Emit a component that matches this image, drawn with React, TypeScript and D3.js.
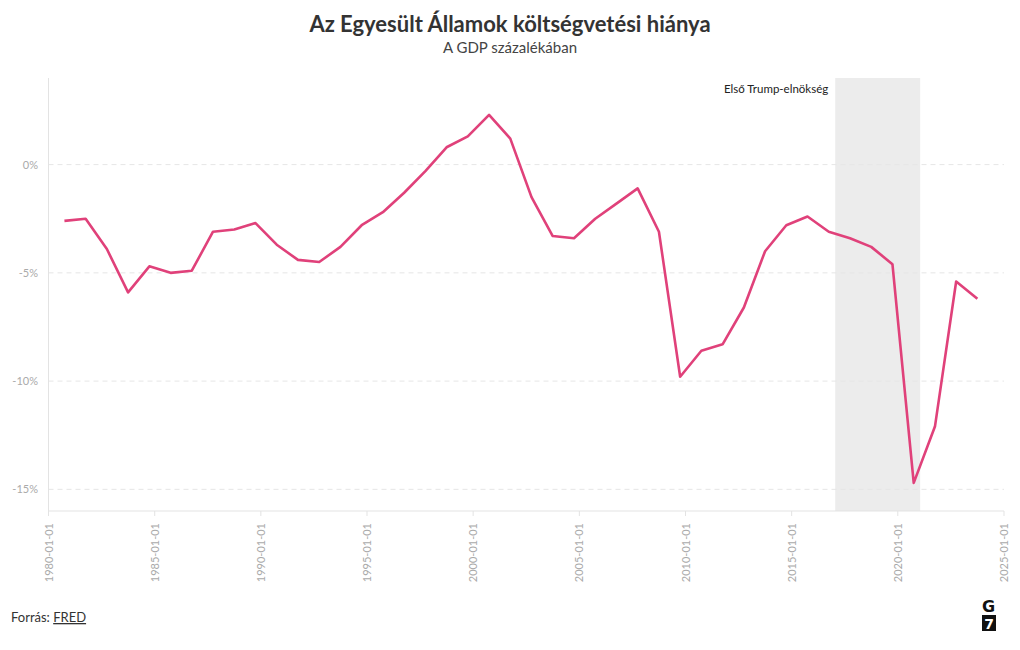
import React from "react";
import * as d3 from "d3";

const years: number[] = [
  1980, 1981, 1982, 1983, 1984, 1985, 1986, 1987, 1988, 1989,
  1990, 1991, 1992, 1993, 1994, 1995, 1996, 1997, 1998, 1999,
  2000, 2001, 2002, 2003, 2004, 2005, 2006, 2007, 2008, 2009,
  2010, 2011, 2012, 2013, 2014, 2015, 2016, 2017, 2018, 2019,
  2020, 2021, 2022, 2023,
];
const deficit: number[] = [
  -2.6, -2.5, -3.9, -5.9, -4.7, -5.0, -4.9, -3.1, -3.0, -2.7,
  -3.7, -4.4, -4.5, -3.8, -2.8, -2.2, -1.3, -0.3, 0.8, 1.3,
  2.3, 1.2, -1.5, -3.3, -3.4, -2.5, -1.8, -1.1, -3.1, -9.8,
  -8.6, -8.3, -6.6, -4.0, -2.8, -2.4, -3.1, -3.4, -3.8, -4.6,
  -14.7, -12.1, -5.4, -6.2,
];
const yTicks: number[] = [0, -5, -10, -15];
const xTickYears: number[] = [1980, 1985, 1990, 1995, 2000, 2005, 2010, 2015, 2020, 2025];
const bandStart = new Date(2017, 0, 20);
const bandEnd = new Date(2021, 0, 20);
const bandLabel = "Első Trump-elnökség";
const title = "Az Egyesült Államok költségvetési hiánya";
const subtitle = "A GDP százalékában";

const W = 1020;
const H = 650;
const left = 48.5;
const right = 1004;
const top = 78;
const bottom = 511;
const font = "Lato, 'Open Sans', sans-serif";

export default function App() {
  const x = d3
    .scaleTime()
    .domain([new Date(1980, 0, 1), new Date(2025, 0, 1)])
    .range([left, right]);
  const y = d3.scaleLinear().domain([-16, 4]).range([bottom, top]);
  const data = years.map((yr, i) => ({ date: new Date(yr, 9, 1), v: deficit[i] }));
  const line = d3
    .line<{ date: Date; v: number }>()
    .x((d) => x(d.date))
    .y((d) => y(d.v));
  const fmt = d3.timeFormat("%Y-%m-%d");

  return (
    <svg
      width={W}
      height={H}
      style={{ position: "absolute", left: 0, top: 0, background: "#fff" }}
      fontFamily={font}
    >
      <text x={W / 2} y={32} textAnchor="middle" fontSize={22} fontWeight={700} fill="#333">
        {title}
      </text>
      <text x={W / 2} y={53} textAnchor="middle" fontSize={15} fill="#444">
        {subtitle}
      </text>

      {/* band */}
      <rect
        x={x(bandStart)}
        y={top}
        width={x(bandEnd) - x(bandStart)}
        height={bottom - top}
        fill="#ececec"
      />
      <text x={x(bandStart) - 7} y={93} textAnchor="end" fontSize={11.5} fill="#222">
        {bandLabel}
      </text>

      {/* grid */}
      {yTicks.map((t) => (
        <g key={t}>
          <line
            x1={left}
            x2={right}
            y1={y(t)}
            y2={y(t)}
            stroke="#e6e6e6"
            strokeDasharray="5,4"
            strokeWidth={1}
          />
          <text x={38} y={y(t) + 4} textAnchor="end" fontSize={11} fill="#aaa">
            {`${t}%`}
          </text>
        </g>
      ))}

      {/* axes lines */}
      <line x1={left} x2={left} y1={top} y2={bottom} stroke="#e3e3e3" />
      <line x1={left} x2={right} y1={bottom} y2={bottom} stroke="#e3e3e3" />
      {xTickYears.map((yr) => {
        const xx = x(new Date(yr, 0, 1));
        return (
          <g key={yr}>
            <line x1={xx} x2={xx} y1={bottom} y2={bottom + 5} stroke="#e3e3e3" />
            <text
              transform={`translate(${xx + 4},${bottom + 12}) rotate(-90)`}
              textAnchor="end"
              fontSize={11}
              fill="#aaa"
            >
              {fmt(new Date(yr, 0, 1))}
            </text>
          </g>
        );
      })}

      <path d={line(data) || ""} fill="none" stroke="#e0417a" strokeWidth={2.6} strokeLinejoin="round" />

      {/* footer */}
      <text x={11} y={622} fontSize={13} fill="#333">
        Forrás:{" "}
        <tspan textDecoration="underline">FRED</tspan>
      </text>
      <text x={988.5} y={612} textAnchor="middle" fontSize={16} fontWeight={700} fill="#111" fontFamily="'DejaVu Sans', sans-serif">
        G
      </text>
      <rect x={982} y={615} width={14} height={16} fill="#111" />
      <text x={989} y={629} textAnchor="middle" fontSize={14} fontWeight={700} fill="#fff" fontFamily="'DejaVu Sans', sans-serif">
        7
      </text>
    </svg>
  );
}
